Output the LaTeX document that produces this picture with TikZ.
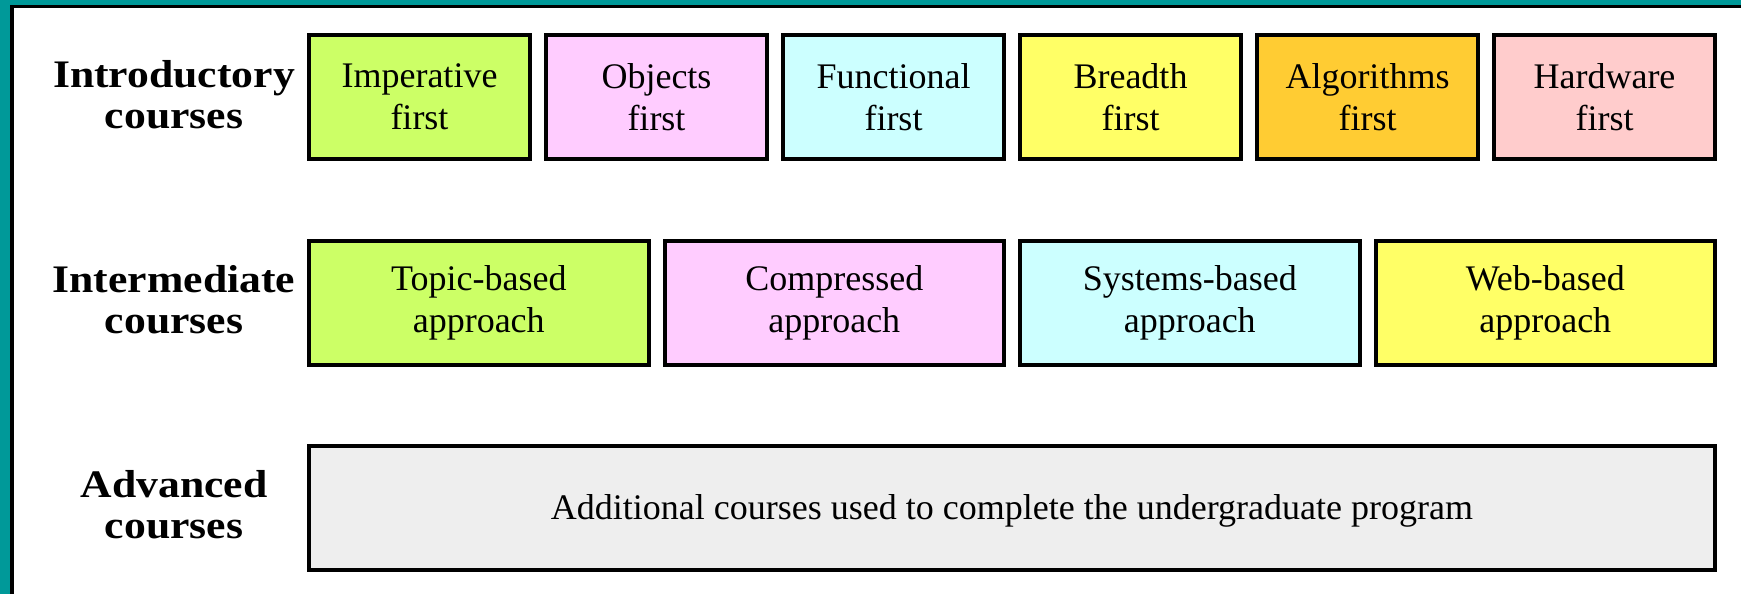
\documentclass[tikz,border=0pt]{standalone}
\usepackage{fontspec}
\setmainfont{Liberation Serif}
\newfontfamily\lblfont[FakeStretch=1.12]{Liberation Serif}
\definecolor{frameteal}{HTML}{009999}
\definecolor{cgreen}{HTML}{CCFF66}
\definecolor{cpink}{HTML}{FFCCFF}
\definecolor{ccyan}{HTML}{CCFFFF}
\definecolor{cyellow}{HTML}{FFFF66}
\definecolor{corange}{HTML}{FFCC33}
\definecolor{csalmon}{HTML}{FFCCCC}
\definecolor{cgrey}{HTML}{EEEEEE}
\begin{document}
\begin{tikzpicture}[x=1pt,y=-1pt,
  box/.style={draw=black, line width=4pt, inner sep=0pt, outer sep=0pt,
    align=center, font=\fontsize{36}{42}\selectfont, minimum height=124pt},
  smallbox/.style={box, minimum width=221pt},
  midbox/.style={box, minimum width=339.5pt},
  widebox/.style={box, minimum width=1406pt, text height=28pt, text depth=4pt},
  lbl/.style={align=center, font=\lblfont\bfseries\fontsize{39}{41}\selectfont, inner sep=0pt}]
\useasboundingbox (0,0) rectangle (1741,594);
\fill[frameteal] (0,0) rectangle (1741,594);
\fill[black] (10,5) rectangle (1741,594);
\fill[white] (14,8.5) rectangle (1741,594);

% labels
\node[lbl] (lintro) at (174,94.5) {Introductory\\courses};
\node[lbl] (lmid) at (174,300) {Intermediate\\courses};
\node[lbl] (ladv) at (174,505) {Advanced\\courses};

% row 1
\node[smallbox, fill=cgreen]  (imp)  at (419.5,97)  {Imperative\\first};
\node[smallbox, fill=cpink]   (obj)  at (656.5,97)  {Objects\\first};
\node[smallbox, fill=ccyan]   (fun)  at (893.5,97)  {Functional\\first};
\node[smallbox, fill=cyellow] (bre)  at (1130.5,97) {Breadth\\first};
\node[smallbox, fill=corange] (alg)  at (1367.5,97) {Algorithms\\first};
\node[smallbox, fill=csalmon] (hw)   at (1604.5,97) {Hardware\\first};

% row 2
\node[midbox, fill=cgreen]  (top) at (478.75,302.5)  {Topic-based\\approach};
\node[midbox, fill=cpink]   (com) at (834.25,302.5)  {Compressed\\approach};
\node[midbox, fill=ccyan]   (sys) at (1189.75,302.5) {Systems-based\\approach};
\node[midbox, fill=cyellow] (web) at (1545.25,302.5) {Web-based\\approach};

% row 3
\node[widebox, fill=cgrey] (add) at (1012,507.5) {Additional courses used to complete the undergraduate program};
\end{tikzpicture}
\end{document}
